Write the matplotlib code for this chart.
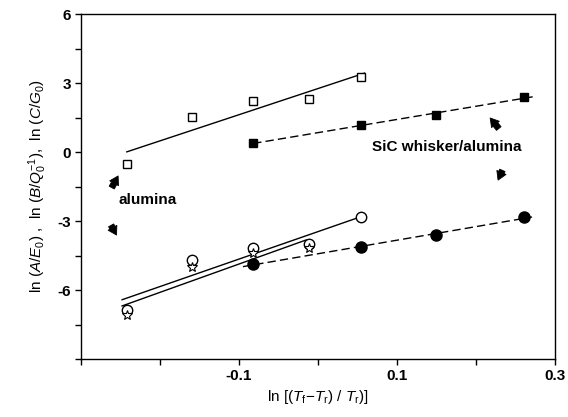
import numpy as np
import matplotlib
matplotlib.use("Agg")
import matplotlib.pyplot as plt

plt.rcParams['font.family'] = ['Liberation Sans', 'DejaVu Sans']
plt.rcParams['mathtext.fontset'] = 'custom'
plt.rcParams['mathtext.it'] = 'Liberation Sans:italic'
plt.rcParams['mathtext.rm'] = 'Liberation Sans'

# ln[(Tf-Tr)/Tr] for each test temperature
x_alumina = [-0.242, -0.160, -0.082, -0.011, 0.054]
x_sic = [-0.082, 0.054, 0.149, 0.261]

# alumina
lnC_alumina = [-0.52, 1.52, 2.22, 2.30, 3.26]       # open squares
lnA_alumina = [-6.87, -4.70, -4.17, -4.00, -2.83]   # open circles
lnB_alumina = [-7.09, -5.00, -4.39, -4.17]          # stars

# SiC whisker / alumina
lnC_sic = [0.39, 1.17, 1.61, 2.39]                  # filled squares
lnA_sic = [-4.87, -4.13, -3.61, -2.83]              # filled circles


def fit_line(ax, x, y, x0, x1, ls):
    k, b = np.polyfit(x, y, 1)
    xx = np.array([x0, x1])
    ax.plot(xx, k * xx + b, color='black', lw=1.0, ls=ls, zorder=2)


def pointer(ax, tip, tail_offset):
    # short fat arrow, tail given in points relative to the tip
    ax.annotate('', xy=tip, xytext=tail_offset, textcoords='offset points',
                arrowprops=dict(arrowstyle='simple,head_length=0.5,head_width=0.6,tail_width=0.35',
                                fc='black', ec='black', lw=0.6, mutation_scale=12,
                                shrinkA=0, shrinkB=0))


fig = plt.figure(figsize=(5.68, 4.17), dpi=100)
ax = fig.add_axes([0.1426, 0.139, 0.8344, 0.8274])

dash = (0, (6, 3))
fit_line(ax, x_alumina, lnC_alumina, -0.242, 0.059, '-')
fit_line(ax, x_alumina, lnA_alumina, -0.248, 0.060, '-')
fit_line(ax, x_alumina[:4], lnB_alumina, -0.248, -0.015, '-')
fit_line(ax, x_sic, lnC_sic, -0.082, 0.277, dash)
fit_line(ax, x_sic, lnA_sic, -0.095, 0.271, dash)

ax.plot(x_alumina, lnC_alumina, 's', ms=6, mfc='white', mec='black', mew=1.0, zorder=3)
ax.plot(x_alumina, lnA_alumina, 'o', ms=7.5, mfc='white', mec='black', mew=1.0, zorder=3)
ax.plot(x_alumina[:4], lnB_alumina, '*', ms=7, mfc='white', mec='black', mew=0.8, zorder=4)
ax.plot(x_sic, lnC_sic, 's', ms=6, color='black', zorder=3)
ax.plot(x_sic, lnA_sic, 'o', ms=8, color='black', zorder=3)

ax.text(-0.252, -2.09, 'alumina', fontsize=11, fontweight='bold', va='center', ha='left')
ax.text(0.068, 0.22, 'SiC whisker/alumina', fontsize=11, fontweight='bold', va='center', ha='left')

pointer(ax, (-0.253, -1.04), (-4.6, -8.4))
pointer(ax, (-0.255, -3.61), (-3.9, 7.0))
pointer(ax, (0.218, 1.48), (6.2, -7.6))
pointer(ax, (0.228, -1.22), (3.1, 7.0))

ax.set_xlim(-0.3, 0.3)
ax.set_ylim(-9, 6)
ax.set_xticks(np.arange(-0.3, 0.31, 0.1))
ax.set_xticklabels(['', '', '-0.1', '', '0.1', '', '0.3'])
ax.set_yticks(np.arange(-9, 6.1, 1.5))
ax.set_yticklabels(['', '', '-6', '', '-3', '', '0', '', '3', '', '6'])
ax.tick_params(direction='out', length=4, width=1.0, labelsize=11, pad=3)
for lab in ax.get_xticklabels() + ax.get_yticklabels():
    lab.set_fontweight('bold')
for s in ax.spines.values():
    s.set_linewidth(1.0)

ax.set_xlabel(r'ln [($\it{T}_{\rm f}$$-$$\it{T}_{\rm r}$) / $\it{T}_{\rm r}$)]', fontsize=11, labelpad=4)
ax.set_ylabel(r'ln ($\it{A}$/$\it{E}_{\rm 0}$) ,  ln ($\it{B}$/$\it{Q}_{\rm 0}^{-1}$),  ln ($\it{C}$/$\it{G}_{\rm 0}$)',
              fontsize=11, labelpad=6)

fig.savefig('out.png', dpi=100)
